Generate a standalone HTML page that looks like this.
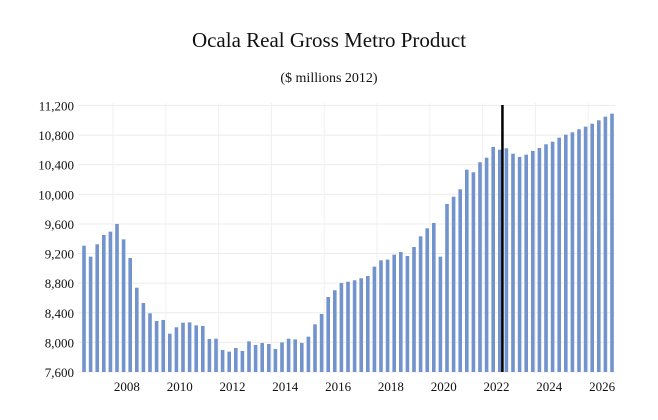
<!DOCTYPE html>
<html><head><meta charset="utf-8"><style>
html,body{margin:0;padding:0;background:#fff;}
svg{display:block;font-family:"Liberation Serif",serif;}
</style></head><body>
<svg id="chart" width="658" height="420" viewBox="0 0 658 420">
<text x="329" y="47" text-anchor="middle" font-size="21" fill="#111">Ocala Real Gross Metro Product</text>
<text x="329" y="82" text-anchor="middle" font-size="14" fill="#111">($ millions 2012)</text>
<g id="grid"></g><g id="bars"></g><g id="axes"></g>
</svg>
<script>
const values = [9306,9158,9325,9451,9496,9600,9392,9140,8739,8532,8393,8289,8303,8118,8204,8266,8270,8230,8222,8046,8050,7897,7875,7924,7884,8014,7965,7992,7978,7911,8000,8050,8041,7992,8077,8244,8384,8613,8704,8802,8820,8839,8866,8897,9023,9109,9118,9185,9221,9167,9289,9433,9541,9613,9158,9870,9968,10068,10333,10298,10433,10495,10640,10603,10622,10549,10505,10536,10586,10626,10676,10711,10765,10806,10838,10879,10914,10954,11000,11049,11090];
const yTicks = [7600,8000,8400,8800,9200,9600,10000,10400,10800,11200];
const yearLabels = [2008,2010,2012,2014,2016,2018,2020,2022,2024,2026];
const forecastIndex = 63.4;
const NS='http://www.w3.org/2000/svg';
const x0=84, step=6.6, yBase=372, yTop=105.5;
const xPos=i=>x0+i*step;
const yPos=v=>yBase-(v-7600)/(11200-7600)*(yBase-yTop);
const yearIdx=y=>6.5+(y-2008)*4;
function mk(t,a,p){const e=document.createElementNS(NS,t);for(const k in a)e.setAttribute(k,a[k]);p.appendChild(e);return e;}
const grid=document.getElementById('grid'),bars=document.getElementById('bars'),axes=document.getElementById('axes');
yTicks.forEach(v=>{
  const l=mk('line',{x1:78,x2:615,y1:yPos(v),y2:yPos(v),stroke:'#ececec','stroke-width':1},grid);
  
  
  const t=mk('text',{x:74,y:yPos(v)+5,'text-anchor':'end','font-size':13,fill:'#111'},axes);
  t.textContent=v.toLocaleString('en-US');
  
  
});
for(let k=0;k<10;k++){
  const gx=xPos(4.4+8*k);
  const l=mk('line',{x1:gx,x2:gx,y1:103,y2:yBase,stroke:'#f0f0f0','stroke-width':1},grid);
  
  
}
values.forEach((v,i)=>{
  const r=mk('rect',{x:xPos(i)-1.8,y:yPos(v),width:3.6,height:yBase-yPos(v),fill:'#7293cb'},bars);
  
  
});
yearLabels.forEach(y=>{
  const t=mk('text',{x:xPos(yearIdx(y)),y:391,'text-anchor':'middle','font-size':13,fill:'#111'},axes);
  t.textContent=y;
  
  
});
const fl=mk('line',{x1:xPos(forecastIndex),x2:xPos(forecastIndex),y1:105,y2:yBase,stroke:'#000','stroke-width':2.5},axes);


</script>
</body></html>
